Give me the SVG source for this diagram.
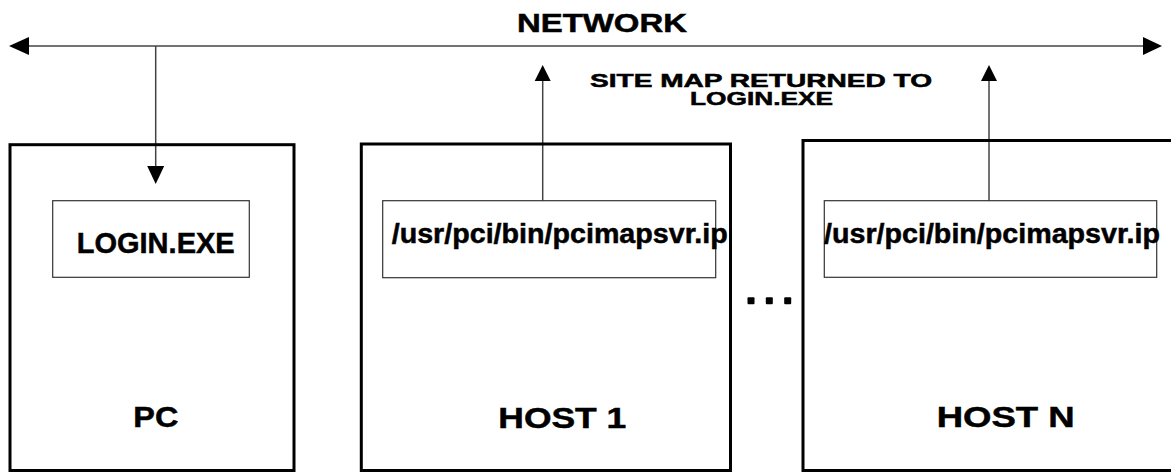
<svg xmlns="http://www.w3.org/2000/svg" width="1171" height="472" viewBox="0 0 1171 472">
  <style>
    .outer { fill: none; stroke: #000; stroke-width: 3; }
    .inner { fill: none; stroke: #333; stroke-width: 1.2; }
    .wire { fill: none; stroke: #444; stroke-width: 1.5; }
    .head { fill: #000; }
    text { font-family: "Liberation Sans", Arial, sans-serif; font-weight: bold; fill: #000; stroke: #000; stroke-width: 0.5; }
    .big { font-size: 30px; }
    .path { font-size: 28px; }
    .note { font-size: 18px; }
  </style>

  <rect width="1171" height="472" fill="#fff"/>

  <!-- network bus and its label -->
  <g id="network">
    <text x="517" y="32" font-size="26" textLength="170" lengthAdjust="spacingAndGlyphs">NETWORK</text>
  </g>

  <g id="connectors">
    <!-- bus line with arrowheads at both ends -->
    <line class="wire" x1="28" y1="46" x2="1144" y2="46"/>
    <polygon class="head" points="9,46 29,37 29,55"/>
    <polygon class="head" points="1162,46 1143,37 1143,55"/>
    <!-- network down to LOGIN.EXE -->
    <line class="wire" x1="155.7" y1="46" x2="155.7" y2="167"/>
    <polygon class="head" points="155.7,184 147.2,166 164.2,166"/>
    <!-- host 1 up to network -->
    <line class="wire" x1="542.7" y1="200.7" x2="542.7" y2="80"/>
    <polygon class="head" points="542.7,65 534.7,81 550.7,81"/>
    <!-- host N up to network -->
    <line class="wire" x1="989" y1="200.7" x2="989" y2="80"/>
    <polygon class="head" points="989,65 981,81 997,81"/>
  </g>

  <g id="site-map-label">
    <text class="note" x="590" y="87" textLength="342" lengthAdjust="spacingAndGlyphs">SITE MAP RETURNED TO</text>
    <text class="note" x="690" y="105" textLength="143" lengthAdjust="spacingAndGlyphs">LOGIN.EXE</text>
  </g>

  <g id="pc">
    <rect class="outer" x="10" y="144.7" width="284" height="325.8"/>
    <text class="big" x="133.3" y="427" textLength="45" lengthAdjust="spacingAndGlyphs">PC</text>
  </g>
  <g id="login-exe">
    <rect class="inner" x="52.7" y="200.7" width="196.6" height="76.6"/>
    <text class="big" x="76.7" y="253" textLength="158" lengthAdjust="spacingAndGlyphs">LOGIN.EXE</text>
  </g>

  <g id="host-1">
    <rect class="outer" x="361.3" y="144" width="369.2" height="326.5"/>
    <text class="big" x="498.3" y="428" textLength="128" lengthAdjust="spacingAndGlyphs">HOST  1</text>
  </g>
  <g id="host-1-server">
    <rect class="inner" x="382.7" y="200.7" width="333" height="77"/>
    <text class="path" x="391.7" y="243" textLength="336" lengthAdjust="spacingAndGlyphs">/usr/pci/bin/pcimapsvr.ip</text>
  </g>

  <g id="ellipsis">
    <rect x="747.5" y="297.2" width="7" height="7" rx="1" fill="#000"/>
    <rect x="765.8" y="297.2" width="7" height="7" rx="1" fill="#000"/>
    <rect x="784.2" y="297.2" width="7" height="7" rx="1" fill="#000"/>
  </g>

  <g id="host-n">
    <rect class="outer" x="803" y="140.5" width="400" height="330"/>
    <text class="big" x="936.7" y="427" textLength="138" lengthAdjust="spacingAndGlyphs">HOST  N</text>
  </g>
  <g id="host-n-server">
    <rect class="inner" x="824.3" y="200.7" width="332.4" height="76.6"/>
    <text class="path" x="824" y="243" textLength="336" lengthAdjust="spacingAndGlyphs">/usr/pci/bin/pcimapsvr.ip</text>
  </g>
</svg>
